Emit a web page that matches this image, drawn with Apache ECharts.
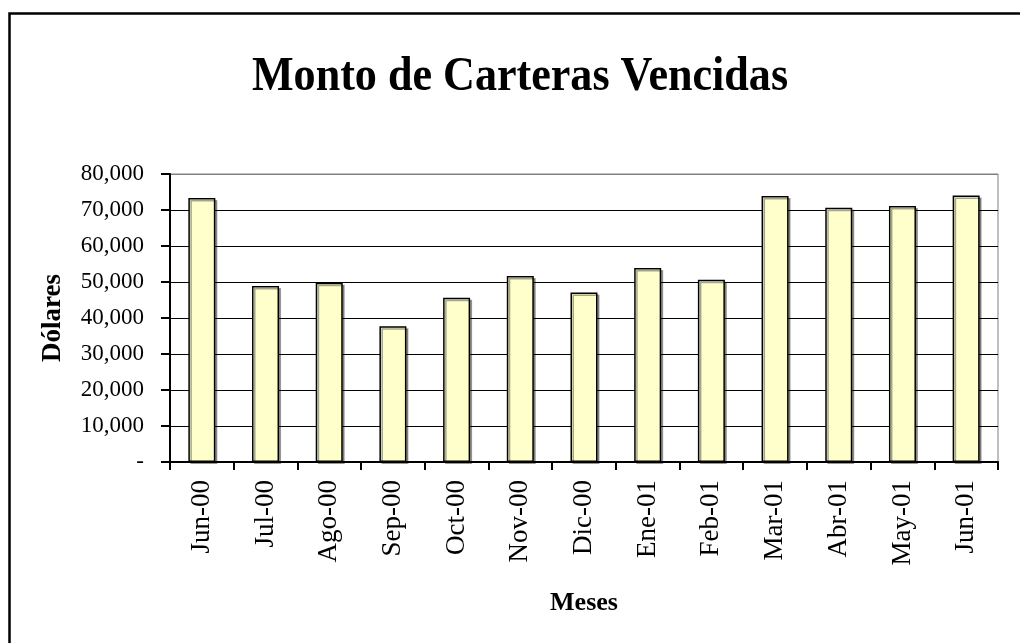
<!DOCTYPE html>
<html lang="es">
<head>
<meta charset="UTF-8">
<title>Monto de Carteras Vencidas</title>
<style>
  html, body { margin: 0; padding: 0; background: #fff; }
  #chart { width: 1020px; height: 643px; }
</style>
</head>
<body>
<div id="chart"></div>
<script src="https://cdn.jsdelivr.net/npm/echarts@6/dist/echarts.min.js"></script>
<script>
// datos
const meses = ['Jun-00', 'Jul-00', 'Ago-00', 'Sep-00', 'Oct-00', 'Nov-00', 'Dic-00',
  'Ene-01', 'Feb-01', 'Mar-01', 'Abr-01', 'May-01', 'Jun-01'];
const montos = [73300, 48900, 49800, 37700, 45600, 51700, 47100,
  53900, 50600, 73900, 70600, 71100, 74000];
const titulo = 'Monto de Carteras Vencidas';

const serif = '"Liberation Serif", "Times New Roman", serif';

// lineas de division: negras, la de arriba gris (borde del area)
const gridColors = ['#000', '#000', '#000', '#000', '#000', '#000', '#000', '#000', '#808080'];

let chart = echarts.init(document.getElementById('chart'));
let option = {
  backgroundColor: '#fff',
  animation: false,
  graphic: [
    {
      type: 'rect',
      shape: { x: 9.5, y: 13.5, width: 1200, height: 800 },
      style: { fill: 'none', stroke: '#000', lineWidth: 2.5 }
    },
    {
      type: 'text',
      x: 520,
      y: 77,
      scaleX: 0.9,
      style: {
        text: titulo,
        x: 0,
        y: 0,
        font: 'bold 49px ' + serif,
        fill: '#000',
        textAlign: 'center',
        textVerticalAlign: 'middle'
      }
    }
  ],
  grid: {
    left: 170,
    right: 22,
    top: 174,
    bottom: 181,
    show: true,
    backgroundColor: '#fff',
    borderColor: '#808080',
    borderWidth: 1,
    containLabel: false,
    outerBoundsMode: 'none'
  },
  xAxis: {
    type: 'category',
    data: meses,
    name: 'Meses',
    nameLocation: 'middle',
    nameGap: 128,
    nameTextStyle: {
      fontFamily: serif,
      fontWeight: 'bold',
      fontSize: 26,
      color: '#000'
    },
    axisLine: { lineStyle: { color: '#000', width: 2 } },
    axisTick: { show: true, length: 8, lineStyle: { color: '#000', width: 2 } },
    axisLabel: {
      rotate: 90,
      margin: 18,
      fontFamily: serif,
      fontSize: 27,
      color: '#000'
    },
    splitLine: { show: false }
  },
  yAxis: {
    type: 'value',
    min: 0,
    max: 80000,
    interval: 10000,
    name: 'Dólares',
    nameLocation: 'middle',
    nameGap: 103,
    nameRotate: 90,
    nameTextStyle: {
      fontFamily: serif,
      fontWeight: 'bold',
      fontSize: 27,
      color: '#000'
    },
    axisLine: { show: true, lineStyle: { color: '#000', width: 2 } },
    axisTick: { show: true, length: 9, lineStyle: { color: '#000', width: 2 } },
    axisLabel: {
      margin: 26,
      fontFamily: serif,
      fontSize: 23,
      color: '#000',
      formatter: function (v) {
        return v === 0 ? '-' : v.toLocaleString('en-US');
      }
    },
    splitLine: { show: true, lineStyle: { color: gridColors, width: 1 } }
  },
  series: [{
    type: 'bar',
    data: montos,
    barWidth: 27,
    itemStyle: {
      color: '#FFFFCC',
      borderColor: '#000',
      borderWidth: 1.5,
      shadowColor: 'rgba(0,0,0,0.35)',
      shadowOffsetX: 2,
      shadowOffsetY: 2,
      shadowBlur: 0
    },
    emphasis: { disabled: true }
  }]
};
chart.setOption(option);
</script>
</body>
</html>
